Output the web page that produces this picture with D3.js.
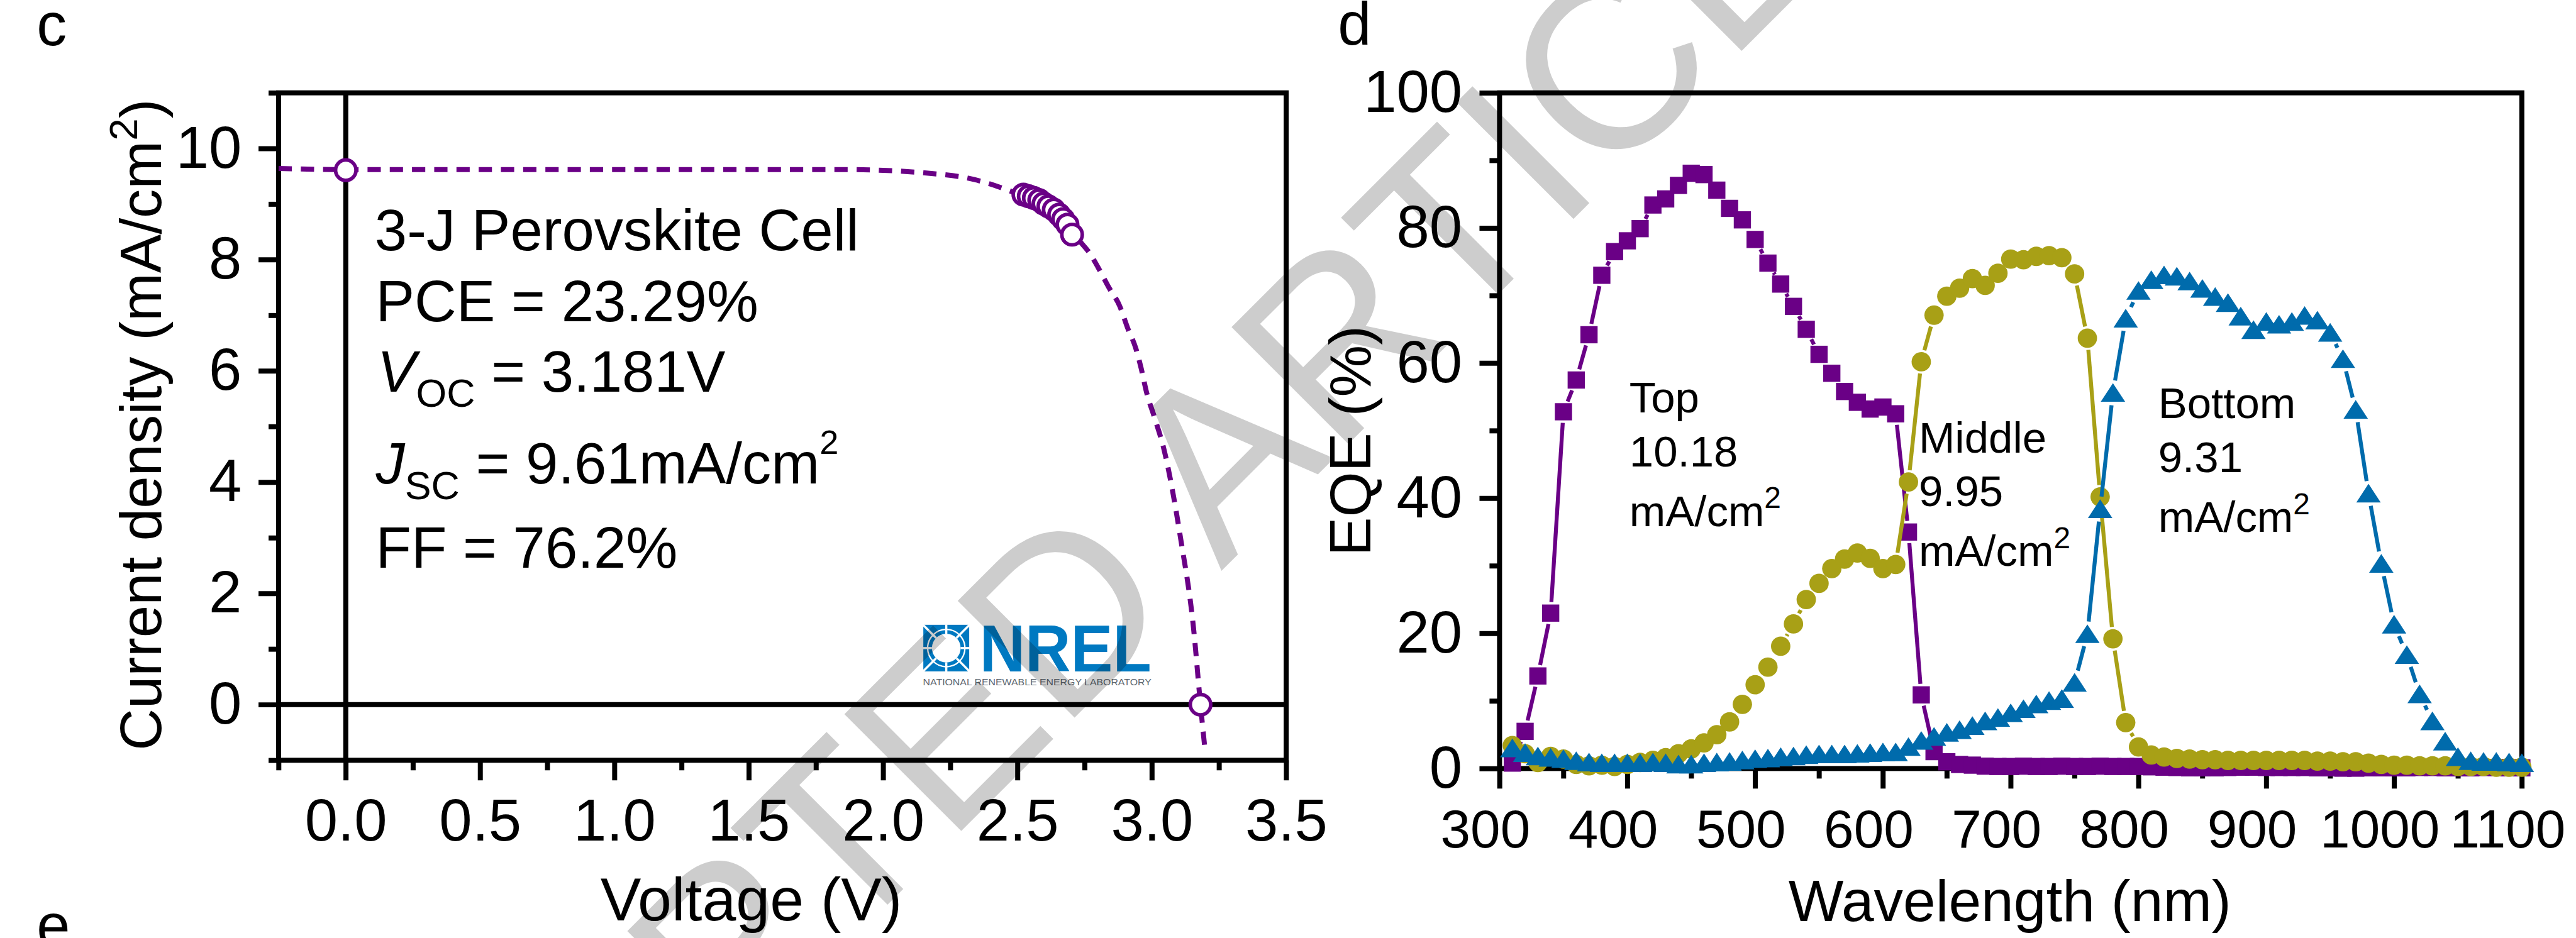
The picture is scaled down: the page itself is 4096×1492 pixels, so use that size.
<!DOCTYPE html>
<html><head><meta charset="utf-8">
<script src="https://cdn.jsdelivr.net/npm/d3@7"></script>
<style>
html,body{margin:0;padding:0;background:#fff;overflow:hidden}
svg{display:block}
text{font-family:"Liberation Sans",Arial,Helvetica,sans-serif}
</style></head><body>
<svg id="chart" width="4096" height="1492"></svg>
<script>
// ---------- Panel c : J-V curve ----------
const jvVoltage = [-0.25, 0, 0.5, 1.0, 1.5, 1.86, 2.18, 2.34, 2.43, 2.47, 2.55, 2.62, 2.68, 2.734, 2.768, 2.80, 2.84, 2.88, 2.91, 2.94, 2.96, 2.98, 3.01, 3.044, 3.107, 3.155, 3.181, 3.198];
const jvCurrent = [9.64, 9.62, 9.62, 9.62, 9.62, 9.62, 9.55, 9.44, 9.31, 9.24, 9.10, 8.92, 8.65, 8.32, 8.12, 7.86, 7.50, 7.17, 6.77, 6.41, 6.05, 5.62, 5.16, 4.61, 2.99, 1.38, 0, -0.82];
const mppVoltage = [2.522, 2.542, 2.561, 2.581, 2.597, 2.615, 2.635, 2.655, 2.670, 2.686, 2.703];
const mppCurrent = [9.17, 9.14, 9.11, 9.07, 9.01, 8.96, 8.90, 8.81, 8.73, 8.63, 8.45];
const keyVoltage = [0, 3.181];
const keyCurrent = [9.61, 0];
const cXMajor = [0, 0.5, 1.0, 1.5, 2.0, 2.5, 3.0, 3.5];
const cXMinor = [-0.25, 0.25, 0.75, 1.25, 1.75, 2.25, 2.75, 3.25];
const cYMajor = [0, 2, 4, 6, 8, 10];
const cYMinor = [-1, 1, 3, 5, 7, 9, 11];

// ---------- Panel d : EQE ----------
const wavelength = [310,320,330,340,350,360,370,380,390,400,410,420,430,440,450,460,470,480,490,500,510,520,530,540,550,560,570,580,590,600,610,620,630,640,650,660,670,680,690,700,710,720,730,740,750,760,770,780,790,800,810,820,830,840,850,860,870,880,890,900,910,920,930,940,950,960,970,980,990,1000,1010,1020,1030,1040,1050,1060,1070,1080,1090,1100];
const eqeTop = [0.8,5.5,13.7,23.0,52.8,57.5,64.2,73.0,76.5,78.1,79.9,83.4,84.3,86.3,88.1,87.9,85.6,82.9,81.2,78.3,74.8,71.7,68.4,65.0,61.3,58.5,55.8,54.2,53.2,53.5,52.5,35.0,10.9,2.5,1.0,0.6,0.5,0.35,0.3,0.3,0.35,0.3,0.3,0.35,0.3,0.3,0.35,0.3,0.3,0.3,0.25,0.2,0.15,0.1,0.1,0.1,0.15,0.2,0.2,0.15,0.15,0.15,0.15,0.1,0.1,0.05,0.05,0.1,0.1,0.1,0.1,0.15,0.15,0.1,0.1,0.1,0.15,0.15,0.1,0.1];
const eqeMiddle = [3.4,2.2,0.9,1.8,1.4,0.6,0.4,0.5,0.3,0.6,0.9,1.2,1.6,2.2,2.9,3.8,5.0,6.9,9.5,12.4,15.0,18.1,21.4,25.0,27.4,29.6,31.0,31.9,31.1,29.6,30.2,42.4,60.2,67.1,69.9,71.1,72.5,71.5,73.3,75.4,75.3,75.8,75.9,75.6,73.2,63.7,40.2,19.2,6.8,3.2,2.0,1.7,1.5,1.4,1.3,1.3,1.2,1.2,1.2,1.2,1.2,1.2,1.2,1.1,1.1,1.0,1.0,0.8,0.6,0.5,0.5,0.4,0.4,0.4,0.3,0.3,0.3,0.2,0.2,0.2];
const eqeBottom = [3.0,2.3,1.8,1.6,1.4,1.1,0.9,0.8,0.8,0.8,0.8,0.9,0.8,0.6,0.6,0.8,0.9,1.0,1.2,1.4,1.5,1.7,1.8,2.0,2.1,2.1,2.1,2.2,2.3,2.4,2.4,3.2,4.1,4.7,5.3,5.7,6.3,7.0,7.5,8.2,8.8,9.5,10.0,10.3,12.7,19.9,38.4,55.6,66.6,70.7,72.3,73.0,72.8,72.1,71.0,69.8,68.9,66.9,64.9,66.1,65.7,66.1,67.0,66.3,64.5,60.6,53.1,40.7,30.3,21.3,16.8,11.0,7.0,4.0,1.7,1.1,1.0,1.0,0.9,0.8];
const dXMajor = [300,400,500,600,700,800,900,1000,1100];
const dXMinor = [350,450,550,650,750,850,950,1050];
const dYMajor = [0,20,40,60,80,100];
const dYMinor = [10,30,50,70,90];

const PURPLE = "#6a0086", OLIVE = "#a8a016", BLUE = "#006bac";
const S = 4096 / 7184;
const root = d3.select("#chart").append("g").attr("transform", `scale(${S})`);
const LW = 14, TICK = 56, MINOR = 28, FS = 165;

function styleAxis(g, fs) {
  g.select(".domain").remove();
  g.selectAll("line").attr("stroke", "#000").attr("stroke-width", LW);
  g.selectAll("text").attr("font-size", fs).attr("fill", "#000").attr("font-family", '"Liberation Sans",Arial,sans-serif');
}

// ================= Panel c =================
const C = {l: 777, r: 3587, t: 259, b: 2121};
const xC = d3.scaleLinear().domain([-0.25, 3.5]).range([C.l, C.r]);
const yC = d3.scaleLinear().domain([-1, 11]).range([C.b, C.t]);

root.append("g").attr("transform", `translate(0,${C.b})`)
  .call(d3.axisBottom(xC).tickValues(cXMajor).tickSize(TICK).tickPadding(50).tickFormat(d3.format(".1f")))
  .call(g => styleAxis(g, FS));
root.append("g").attr("transform", `translate(0,${C.b})`)
  .call(d3.axisBottom(xC).tickValues(cXMinor).tickSize(MINOR).tickFormat(""))
  .call(g => styleAxis(g, FS));
root.append("g").attr("transform", `translate(${C.l},0)`)
  .call(d3.axisLeft(yC).tickValues(cYMajor).tickSize(TICK).tickPadding(47).tickFormat(d3.format("d")))
  .call(g => styleAxis(g, FS));
root.append("g").attr("transform", `translate(${C.l},0)`)
  .call(d3.axisLeft(yC).tickValues(cYMinor).tickSize(MINOR).tickFormat(""))
  .call(g => styleAxis(g, FS));

// zero lines
root.append("line").attr("x1", C.l).attr("x2", C.r).attr("y1", yC(0)).attr("y2", yC(0)).attr("stroke", "#000").attr("stroke-width", LW);
root.append("line").attr("x1", xC(0)).attr("x2", xC(0)).attr("y1", C.t).attr("y2", C.b).attr("stroke", "#000").attr("stroke-width", LW);
root.append("rect").attr("x", C.l).attr("y", C.t).attr("width", C.r - C.l).attr("height", C.b - C.t)
  .attr("fill", "none").attr("stroke", "#000").attr("stroke-width", LW);

// NREL logo
const logo = root.append("g").attr("transform", "translate(2574,1742)");
logo.append("rect").attr("width", 130).attr("height", 132).attr("fill", "#0079c1");
logo.append("circle").attr("cx", 65).attr("cy", 66).attr("r", 52).attr("fill", "none").attr("stroke", "#fff").attr("stroke-width", 4);
[0,45,90,135,180,225,270,315].forEach(a => {
  const rad = a * Math.PI / 180, r2 = (a % 90 === 0) ? 66 : 92;
  logo.append("line").attr("x1", 65 + 40 * Math.cos(rad)).attr("y1", 66 + 40 * Math.sin(rad))
    .attr("x2", 65 + r2 * Math.cos(rad)).attr("y2", 66 + r2 * Math.sin(rad))
    .attr("stroke", "#fff").attr("stroke-width", 6);
});
logo.append("rect").attr("width", 130).attr("height", 132).attr("fill", "none").attr("stroke", "#fff").attr("stroke-width", 2);
logo.append("circle").attr("cx", 65).attr("cy", 66).attr("r", 40).attr("fill", "#fff");
root.append("text").attr("x", 2732).attr("y", 1874).attr("font-size", 184).attr("font-weight", "bold")
  .attr("fill", "#0079c1").attr("textLength", 479).attr("lengthAdjust", "spacingAndGlyphs").text("NREL");
root.append("text").attr("x", 2574).attr("y", 1911).attr("font-size", 25).attr("fill", "#5d6770")
  .attr("textLength", 637).attr("lengthAdjust", "spacingAndGlyphs").text("NATIONAL RENEWABLE ENERGY LABORATORY");

// J-V dashed curve
const jvData = d3.zip(jvVoltage, jvCurrent);
root.append("path").datum(jvData)
  .attr("d", d3.line().x(d => xC(d[0])).y(d => yC(d[1])).curve(d3.curveMonotoneX))
  .attr("fill", "none").attr("stroke", PURPLE).attr("stroke-width", 14).attr("stroke-dasharray", "37,25");
const openPts = d3.zip(keyVoltage, keyCurrent).concat(d3.zip(mppVoltage, mppCurrent));
root.append("g").selectAll("circle").data(openPts).join("circle")
  .attr("cx", d => xC(d[0])).attr("cy", d => yC(d[1])).attr("r", 28.5)
  .attr("fill", "#fff").attr("stroke", PURPLE).attr("stroke-width", 10);

// annotation
const ann = root.append("g").attr("font-size", 162).attr("fill", "#000");
ann.append("text").attr("x", 1045).attr("y", 698).text("3-J Perovskite Cell");
ann.append("text").attr("x", 1048).attr("y", 896).text("PCE = 23.29%");
const tv = ann.append("text").attr("x", 1052).attr("y", 1093);
tv.append("tspan").attr("font-style", "italic").text("V");
tv.append("tspan").attr("font-size", 110).attr("dy", 42).text("OC");
tv.append("tspan").attr("dy", -42).text(" = 3.181V");
const tj = ann.append("text").attr("x", 1048).attr("y", 1349);
tj.append("tspan").attr("font-style", "italic").text("J");
tj.append("tspan").attr("font-size", 110).attr("dy", 43).text("SC");
tj.append("tspan").attr("dy", -43).text(" = 9.61mA/cm");
tj.append("tspan").attr("font-size", 95).attr("dy", -82).text("2");
ann.append("text").attr("x", 1048).attr("y", 1583).text("FF = 76.2%");

// axis titles c
const ytc = root.append("text").attr("transform", "translate(449,1185) rotate(-90)").attr("text-anchor", "middle").attr("font-size", 162);
ytc.append("tspan").text("Current density (mA/cm");
ytc.append("tspan").attr("font-size", 112).attr("dy", -67).text("2");
ytc.append("tspan").attr("dy", 67).text(")");
root.append("text").attr("x", 2095).attr("y", 2568).attr("text-anchor", "middle").attr("font-size", 170).text("Voltage (V)");
root.append("text").attr("x", 102).attr("y", 127).attr("font-size", 168).text("c");
root.append("text").attr("x", 102).attr("y", 2640).attr("font-size", 168).text("e");

// ================= Panel d =================
const D = {l: 4182, r: 7033, t: 259, b: 2144};
const xD = d3.scaleLinear().domain([300, 1100]).range([D.l, D.r]);
const yD = d3.scaleLinear().domain([0, 100]).range([D.b, D.t]);

root.append("g").attr("transform", `translate(0,${D.b})`)
  .call(d3.axisBottom(xD).tickValues(dXMajor).tickSize(TICK).tickPadding(58).tickFormat(d3.format("d")))
  .call(g => styleAxis(g, 150))
  .call(g => g.selectAll("text").attr("dx", -40));
root.append("g").attr("transform", `translate(0,${D.b})`)
  .call(d3.axisBottom(xD).tickValues(dXMinor).tickSize(MINOR).tickFormat(""))
  .call(g => styleAxis(g, FS));
root.append("g").attr("transform", `translate(${D.l},0)`)
  .call(d3.axisLeft(yD).tickValues(dYMajor).tickSize(TICK).tickPadding(48).tickFormat(d3.format("d")))
  .call(g => styleAxis(g, FS));
root.append("g").attr("transform", `translate(${D.l},0)`)
  .call(d3.axisLeft(yD).tickValues(dYMinor).tickSize(MINOR).tickFormat(""))
  .call(g => styleAxis(g, FS));
root.append("rect").attr("x", D.l).attr("y", D.t).attr("width", D.r - D.l).attr("height", D.b - D.t)
  .attr("fill", "none").attr("stroke", "#000").attr("stroke-width", LW);

function drawSeries(values, color, shape, gap) {
  const pts = wavelength.map((w, i) => [xD(w), yD(values[i])]);
  const segs = [];
  for (let i = 0; i < pts.length - 1; i++) {
    const [x1, y1] = pts[i], [x2, y2] = pts[i + 1];
    const dx = x2 - x1, dy = y2 - y1, L = Math.hypot(dx, dy);
    if (L > 2 * gap + 4) {
      const ux = dx / L, uy = dy / L;
      segs.push([x1 + ux * gap, y1 + uy * gap, x2 - ux * gap, y2 - uy * gap]);
    }
  }
  const g = root.append("g");
  g.selectAll("line").data(segs).join("line")
    .attr("x1", d => d[0]).attr("y1", d => d[1]).attr("x2", d => d[2]).attr("y2", d => d[3])
    .attr("stroke", color).attr("stroke-width", 11);
  const m = g.append("g").attr("fill", color);
  if (shape === "square") {
    m.selectAll("rect").data(pts).join("rect").attr("x", d => d[0] - 24).attr("y", d => d[1] - 24).attr("width", 48).attr("height", 48);
  } else if (shape === "circle") {
    m.selectAll("circle").data(pts).join("circle").attr("cx", d => d[0]).attr("cy", d => d[1]).attr("r", 27);
  } else {
    m.selectAll("path").data(pts).join("path")
      .attr("d", d => `M${d[0]},${d[1] - 27}L${d[0] + 34},${d[1] + 25}L${d[0] - 34},${d[1] + 25}Z`);
  }
}
drawSeries(eqeTop, PURPLE, "square", 31);
drawSeries(eqeMiddle, OLIVE, "circle", 33);
drawSeries(eqeBottom, BLUE, "triangle", 35);

// d labels
function cellLabel(x, y0, name, val) {
  const g = root.append("g").attr("font-size", 121).attr("fill", "#000");
  g.append("text").attr("x", x).attr("y", y0).text(name);
  g.append("text").attr("x", x).attr("y", y0 + 150).text(val);
  const t = g.append("text").attr("x", x).attr("y", y0 + 317);
  t.append("tspan").text("mA/cm");
  t.append("tspan").attr("font-size", 84).attr("dy", -50).text("2");
}
cellLabel(4544, 1151, "Top", "10.18");
cellLabel(5351, 1262, "Middle", "9.95");
cellLabel(6019, 1167, "Bottom", "9.31");

root.append("text").attr("transform", "translate(3822,1230) rotate(-90)").attr("text-anchor", "middle").attr("font-size", 163).text("EQE (%)");
root.append("text").attr("x", 5605).attr("y", 2570).attr("text-anchor", "middle").attr("font-size", 163).text("Wavelength (nm)");
root.append("text").attr("x", 3731).attr("y", 125).attr("font-size", 168).text("d");

// watermark
root.append("text").attr("transform", "translate(3059,1940) rotate(-45)").attr("text-anchor", "middle")
  .attr("font-size", 670).attr("fill", "#000").attr("fill-opacity", 0.196)
  .text("ACCEPTED ARTICLE");
</script>
</body></html>
